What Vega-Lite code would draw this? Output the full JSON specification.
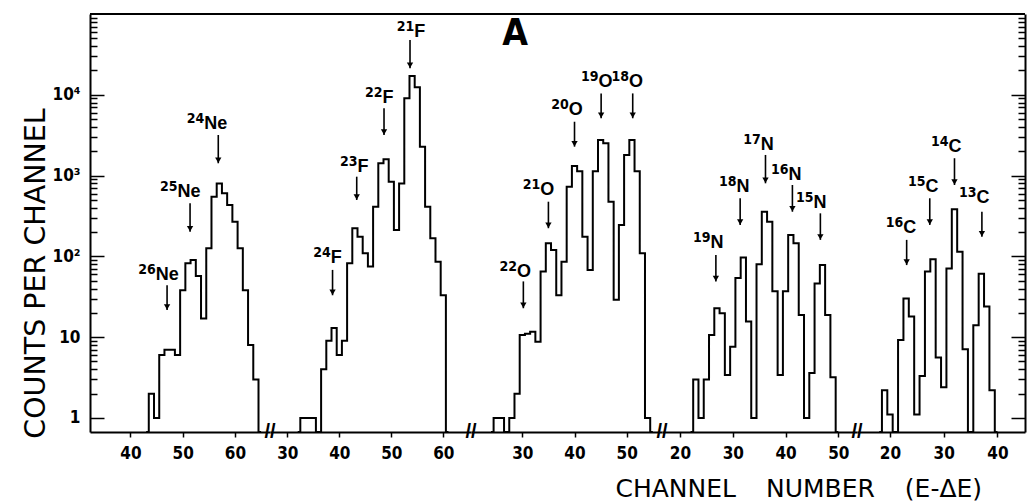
{
"$schema": "https://vega.github.io/schema/vega-lite/v6.json",
"padding": {"left": 21, "top": 13, "right": 2, "bottom": 0},
"background": "white",
"bounds": "flush",
"spacing": 0,
"datasets": {
"hist": [
{"p":"Ne","ch":43,"n":0},{"p":"Ne","ch":44,"n":2},{"p":"Ne","ch":45,"n":1},{"p":"Ne","ch":46,"n":6},{"p":"Ne","ch":47,"n":7},{"p":"Ne","ch":48,"n":7},{"p":"Ne","ch":49,"n":6},{"p":"Ne","ch":50,"n":38},{"p":"Ne","ch":51,"n":82},{"p":"Ne","ch":52,"n":90},{"p":"Ne","ch":53,"n":57},{"p":"Ne","ch":54,"n":17},{"p":"Ne","ch":55,"n":126},{"p":"Ne","ch":56,"n":548},{"p":"Ne","ch":57,"n":800},{"p":"Ne","ch":58,"n":603},{"p":"Ne","ch":59,"n":433},{"p":"Ne","ch":60,"n":269},{"p":"Ne","ch":61,"n":126},{"p":"Ne","ch":62,"n":38},{"p":"Ne","ch":63,"n":8},{"p":"Ne","ch":64,"n":3},{"p":"Ne","ch":65,"n":0},
{"p":"F","ch":32,"n":0},{"p":"F","ch":33,"n":1},{"p":"F","ch":34,"n":1},{"p":"F","ch":35,"n":1},{"p":"F","ch":36,"n":0},{"p":"F","ch":37,"n":4},{"p":"F","ch":38,"n":9},{"p":"F","ch":39,"n":13},{"p":"F","ch":40,"n":6},{"p":"F","ch":41,"n":9},{"p":"F","ch":42,"n":82},{"p":"F","ch":43,"n":223},{"p":"F","ch":44,"n":175},{"p":"F","ch":45,"n":109},{"p":"F","ch":46,"n":75},{"p":"F","ch":47,"n":412},{"p":"F","ch":48,"n":1420},{"p":"F","ch":49,"n":1590},{"p":"F","ch":50,"n":840},{"p":"F","ch":51,"n":212},{"p":"F","ch":52,"n":800},{"p":"F","ch":53,"n":9060},{"p":"F","ch":54,"n":17100},{"p":"F","ch":55,"n":12400},{"p":"F","ch":56,"n":2280},{"p":"F","ch":57,"n":412},{"p":"F","ch":58,"n":168},{"p":"F","ch":59,"n":86},{"p":"F","ch":60,"n":33},{"p":"F","ch":61,"n":0},
{"p":"O","ch":24,"n":0},{"p":"O","ch":25,"n":1},{"p":"O","ch":26,"n":1},{"p":"O","ch":27,"n":0},{"p":"O","ch":28,"n":1},{"p":"O","ch":29,"n":2},{"p":"O","ch":30,"n":10.6},{"p":"O","ch":31,"n":11},{"p":"O","ch":32,"n":11.7},{"p":"O","ch":33,"n":8.8},{"p":"O","ch":34,"n":65},{"p":"O","ch":35,"n":145},{"p":"O","ch":36,"n":120},{"p":"O","ch":37,"n":33},{"p":"O","ch":38,"n":86},{"p":"O","ch":39,"n":729},{"p":"O","ch":40,"n":1315},{"p":"O","ch":41,"n":1130},{"p":"O","ch":42,"n":175},{"p":"O","ch":43,"n":68},{"p":"O","ch":44,"n":1130},{"p":"O","ch":45,"n":2760},{"p":"O","ch":46,"n":2520},{"p":"O","ch":47,"n":475},{"p":"O","ch":48,"n":29},{"p":"O","ch":49,"n":245},{"p":"O","ch":50,"n":1800},{"p":"O","ch":51,"n":2760},{"p":"O","ch":52,"n":1130},{"p":"O","ch":53,"n":109},{"p":"O","ch":54,"n":1},{"p":"O","ch":55,"n":0},
{"p":"N","ch":22,"n":0},{"p":"N","ch":23,"n":3},{"p":"N","ch":24,"n":1},{"p":"N","ch":25,"n":3},{"p":"N","ch":26,"n":10.6},{"p":"N","ch":27,"n":22.8},{"p":"N","ch":28,"n":19.8},{"p":"N","ch":29,"n":3.4},{"p":"N","ch":30,"n":7.6},{"p":"N","ch":31,"n":54},{"p":"N","ch":32,"n":97},{"p":"N","ch":33,"n":15.6},{"p":"N","ch":34,"n":1},{"p":"N","ch":35,"n":80},{"p":"N","ch":36,"n":357},{"p":"N","ch":37,"n":269},{"p":"N","ch":38,"n":37},{"p":"N","ch":39,"n":3.4},{"p":"N","ch":40,"n":37},{"p":"N","ch":41,"n":184},{"p":"N","ch":42,"n":145},{"p":"N","ch":43,"n":18.8},{"p":"N","ch":44,"n":1},{"p":"N","ch":45,"n":3.6},{"p":"N","ch":46,"n":46},{"p":"N","ch":47,"n":78},{"p":"N","ch":48,"n":18.8},{"p":"N","ch":49,"n":3.2},{"p":"N","ch":50,"n":0},
{"p":"C","ch":18,"n":0},{"p":"C","ch":19,"n":2.2},{"p":"C","ch":20,"n":1.1},{"p":"C","ch":21,"n":0},{"p":"C","ch":22,"n":9.2},{"p":"C","ch":23,"n":30},{"p":"C","ch":24,"n":18},{"p":"C","ch":25,"n":1.1},{"p":"C","ch":26,"n":3.3},{"p":"C","ch":27,"n":65},{"p":"C","ch":28,"n":92},{"p":"C","ch":29,"n":5.6},{"p":"C","ch":30,"n":2.4},{"p":"C","ch":31,"n":71},{"p":"C","ch":32,"n":383},{"p":"C","ch":33,"n":114},{"p":"C","ch":34,"n":7.1},{"p":"C","ch":35,"n":0},{"p":"C","ch":36,"n":14},{"p":"C","ch":37,"n":61},{"p":"C","ch":38,"n":24},{"p":"C","ch":39,"n":2.2},{"p":"C","ch":40,"n":0}
],
"ann": [
{"p":"Ne","iso":"24","el":"Ne","ax":56.8,"atop":3180,"atip":1420,"lx":54.1,"ly":3780},
{"p":"Ne","iso":"25","el":"Ne","ax":51.4,"atop":454,"atip":202,"lx":49.0,"ly":548},
{"p":"Ne","iso":"26","el":"Ne","ax":47.0,"atop":44,"atip":21.7,"lx":44.85,"ly":51},
{"p":"F","iso":"21","el":"F","ax":53.6,"atop":47600,"atip":21300,"lx":54.4,"ly":52400},
{"p":"F","iso":"22","el":"F","ax":48.6,"atop":6800,"atip":3180,"lx":48.3,"ly":7850},
{"p":"F","iso":"23","el":"F","ax":43.35,"atop":969,"atip":499,"lx":43.5,"ly":1117},
{"p":"F","iso":"24","el":"F","ax":38.7,"atop":68,"atip":33,"lx":38.35,"ly":82},
{"p":"O","iso":"22","el":"O","ax":30.2,"atop":49,"atip":22.8,"lx":29.0,"ly":56},
{"p":"O","iso":"21","el":"O","ax":35.0,"atop":475,"atip":223,"lx":33.45,"ly":575},
{"p":"O","iso":"20","el":"O","ax":40.0,"atop":4640,"atip":2280,"lx":38.9,"ly":5620},
{"p":"O","iso":"19","el":"O","ax":45.1,"atop":10400,"atip":5120,"lx":44.6,"ly":12600},
{"p":"O","iso":"18","el":"O","ax":51.15,"atop":10400,"atip":5120,"lx":50.45,"ly":12600},
{"p":"N","iso":"19","el":"N","ax":26.8,"atop":104,"atip":49,"lx":25.8,"ly":126},
{"p":"N","iso":"18","el":"N","ax":31.4,"atop":524,"atip":245,"lx":30.7,"ly":632},
{"p":"N","iso":"17","el":"N","ax":36.2,"atop":1800,"atip":802,"lx":35.3,"ly":2075},
{"p":"N","iso":"16","el":"N","ax":41.3,"atop":765,"atip":357,"lx":40.55,"ly":883},
{"p":"N","iso":"15","el":"N","ax":46.6,"atop":341,"atip":160,"lx":45.3,"ly":394},
{"p":"C","iso":"16","el":"C","ax":23.1,"atop":160,"atip":78,"lx":22.46,"ly":193},
{"p":"C","iso":"15","el":"C","ax":27.4,"atop":524,"atip":245,"lx":26.6,"ly":632},
{"p":"C","iso":"14","el":"C","ax":32.0,"atop":1640,"atip":765,"lx":30.9,"ly":1975},
{"p":"C","iso":"13","el":"C","ax":37.1,"atop":357,"atip":175,"lx":36.1,"ly":454}
]
},
"hconcat": [
{"width": 180, "height": 418, "layer": [
 {"data": {"name": "hist"}, "transform": [{"filter": "datum.p==='Ne'"}],
  "mark": {"type": "line", "interpolate": "step", "color": "black", "strokeWidth": 2, "strokeJoin": "miter", "invalid": "show"},
  "encoding": {
   "x": {"field": "ch", "type": "quantitative", "title": null, "scale": {"domain": [32.25, 66.7], "nice": false, "zero": false}, "axis": {"values": [40,50,60], "title": null}},
   "y": {"field": "n", "type": "quantitative", "title": "COUNTS PER CHANNEL", "scale": {"type": "log", "domain": [0.67, 100000], "nice": false, "clamp": true},
    "axis": {"orient": "left", "values": [1,2,3,4,5,6,7,8,9,10,20,30,40,50,60,70,80,90,100,200,300,400,500,600,700,800,900,1000,2000,3000,4000,5000,6000,7000,8000,9000,10000,20000,30000,40000,50000,60000,70000,80000,90000],
     "labelExpr": "datum.value===1?'1':datum.value===10?'10':datum.value===100?'10²':datum.value===1000?'10³':datum.value===10000?'10⁴':''",
     "labelFontSize": {"condition": {"test": "indexof([1,10,100,1000,10000],datum.value)>=0", "value": 17}, "value": 0},
     "tickSize": {"condition": {"test": "indexof([1,10,100,1000,10000],datum.value)>=0", "value": -14}, "value": -7},
     "title": "COUNTS PER CHANNEL", "titleFont": "DejaVu Sans", "titleFontSize": 28.5, "titleFontWeight": "normal", "titleX": -55, "titleY": 259, "titleAngle": -90, "titleAlign": "center", "titleBaseline": "middle", "titleLimit": 1000}}
  }},
 {"data": {"name": "ann"}, "transform": [{"filter": "datum.p==='Ne'"}], "mark": {"type": "rule", "color": "black", "strokeWidth": 1.6},
  "encoding": {"x": {"field": "ax", "type": "quantitative"}, "y": {"field": "atop", "type": "quantitative"}, "y2": {"field": "atip"}}},
 {"data": {"name": "ann"}, "transform": [{"filter": "datum.p==='Ne'"}], "mark": {"type": "point", "shape": "triangle-down", "filled": true, "color": "black", "opacity": 1, "size": 40, "yOffset": -3},
  "encoding": {"x": {"field": "ax", "type": "quantitative"}, "y": {"field": "atip", "type": "quantitative"}}},
 {"data": {"name": "ann"}, "transform": [{"filter": "datum.p==='Ne'"}], "mark": {"type": "text", "align": "right", "baseline": "alphabetic", "dy": -6, "font": "'Liberation Sans Narrow', 'DejaVu Sans Condensed', sans-serif", "fontSize": 14, "fontWeight": "bold", "color": "black"},
  "encoding": {"x": {"field": "lx", "type": "quantitative"}, "y": {"field": "ly", "type": "quantitative"}, "text": {"field": "iso"}}},
 {"data": {"name": "ann"}, "transform": [{"filter": "datum.p==='Ne'"}], "mark": {"type": "text", "align": "left", "baseline": "alphabetic", "font": "'Liberation Sans', sans-serif", "fontSize": 18, "fontWeight": "bold", "color": "black"},
  "encoding": {"x": {"field": "lx", "type": "quantitative"}, "y": {"field": "ly", "type": "quantitative"}, "text": {"field": "el"}}},
 {"data": {"values": [{}]}, "mark": {"type": "rule", "color": "black", "strokeWidth": 2}, "encoding": {"y": {"datum": 100000, "type": "quantitative"}}},
 {"data": {"values": [{}]}, "mark": {"type": "text", "text": "//", "font": "'Liberation Sans', sans-serif", "fontSize": 20, "fontWeight": "bold", "align": "center", "baseline": "middle", "color": "black"},
  "encoding": {"x": {"datum": 66.7, "type": "quantitative"}, "y": {"datum": 0.67, "type": "quantitative"}}}
]},
{"width": 201, "height": 418, "layer": [
 {"data": {"name": "hist"}, "transform": [{"filter": "datum.p==='F'"}],
  "mark": {"type": "line", "interpolate": "step", "color": "black", "strokeWidth": 2, "strokeJoin": "miter", "invalid": "show"},
  "encoding": {
   "x": {"field": "ch", "type": "quantitative", "title": null, "scale": {"domain": [26.67, 65.33], "nice": false, "zero": false}, "axis": {"values": [30,40,50,60], "title": null}},
   "y": {"field": "n", "type": "quantitative", "scale": {"type": "log", "domain": [0.67, 100000], "nice": false, "clamp": true}, "axis": null}
  }},
 {"data": {"name": "ann"}, "transform": [{"filter": "datum.p==='F'"}], "mark": {"type": "rule", "color": "black", "strokeWidth": 1.6},
  "encoding": {"x": {"field": "ax", "type": "quantitative"}, "y": {"field": "atop", "type": "quantitative", "axis": null}, "y2": {"field": "atip"}}},
 {"data": {"name": "ann"}, "transform": [{"filter": "datum.p==='F'"}], "mark": {"type": "point", "shape": "triangle-down", "filled": true, "color": "black", "opacity": 1, "size": 40, "yOffset": -3},
  "encoding": {"x": {"field": "ax", "type": "quantitative"}, "y": {"field": "atip", "type": "quantitative", "axis": null}}},
 {"data": {"name": "ann"}, "transform": [{"filter": "datum.p==='F'"}], "mark": {"type": "text", "align": "right", "baseline": "alphabetic", "dy": -6, "font": "'Liberation Sans Narrow', 'DejaVu Sans Condensed', sans-serif", "fontSize": 14, "fontWeight": "bold", "color": "black"},
  "encoding": {"x": {"field": "lx", "type": "quantitative"}, "y": {"field": "ly", "type": "quantitative", "axis": null}, "text": {"field": "iso"}}},
 {"data": {"name": "ann"}, "transform": [{"filter": "datum.p==='F'"}], "mark": {"type": "text", "align": "left", "baseline": "alphabetic", "font": "'Liberation Sans', sans-serif", "fontSize": 18, "fontWeight": "bold", "color": "black"},
  "encoding": {"x": {"field": "lx", "type": "quantitative"}, "y": {"field": "ly", "type": "quantitative", "axis": null}, "text": {"field": "el"}}},
 {"data": {"values": [{}]}, "mark": {"type": "rule", "color": "black", "strokeWidth": 2}, "encoding": {"y": {"datum": 100000, "type": "quantitative", "axis": null}}},
 {"data": {"values": [{}]}, "mark": {"type": "text", "text": "//", "font": "'Liberation Sans', sans-serif", "fontSize": 20, "fontWeight": "bold", "align": "center", "baseline": "middle", "color": "black"},
  "encoding": {"x": {"datum": 65.33, "type": "quantitative"}, "y": {"datum": 0.67, "type": "quantitative", "axis": null}}}
]},
{"width": 191, "height": 418, "layer": [
 {"data": {"name": "hist"}, "transform": [{"filter": "datum.p==='O'"}],
  "mark": {"type": "line", "interpolate": "step", "color": "black", "strokeWidth": 2, "strokeJoin": "miter", "invalid": "show"},
  "encoding": {
   "x": {"field": "ch", "type": "quantitative", "title": null, "scale": {"domain": [20.17, 56.76], "nice": false, "zero": false}, "axis": {"values": [30,40,50], "title": null}},
   "y": {"field": "n", "type": "quantitative", "scale": {"type": "log", "domain": [0.67, 100000], "nice": false, "clamp": true}, "axis": null}
  }},
 {"data": {"name": "ann"}, "transform": [{"filter": "datum.p==='O'"}], "mark": {"type": "rule", "color": "black", "strokeWidth": 1.6},
  "encoding": {"x": {"field": "ax", "type": "quantitative"}, "y": {"field": "atop", "type": "quantitative", "axis": null}, "y2": {"field": "atip"}}},
 {"data": {"name": "ann"}, "transform": [{"filter": "datum.p==='O'"}], "mark": {"type": "point", "shape": "triangle-down", "filled": true, "color": "black", "opacity": 1, "size": 40, "yOffset": -3},
  "encoding": {"x": {"field": "ax", "type": "quantitative"}, "y": {"field": "atip", "type": "quantitative", "axis": null}}},
 {"data": {"name": "ann"}, "transform": [{"filter": "datum.p==='O'"}], "mark": {"type": "text", "align": "right", "baseline": "alphabetic", "dy": -6, "font": "'Liberation Sans Narrow', 'DejaVu Sans Condensed', sans-serif", "fontSize": 14, "fontWeight": "bold", "color": "black"},
  "encoding": {"x": {"field": "lx", "type": "quantitative"}, "y": {"field": "ly", "type": "quantitative", "axis": null}, "text": {"field": "iso"}}},
 {"data": {"name": "ann"}, "transform": [{"filter": "datum.p==='O'"}], "mark": {"type": "text", "align": "left", "baseline": "alphabetic", "font": "'Liberation Sans', sans-serif", "fontSize": 18, "fontWeight": "bold", "color": "black"},
  "encoding": {"x": {"field": "lx", "type": "quantitative"}, "y": {"field": "ly", "type": "quantitative", "axis": null}, "text": {"field": "el"}}},
 {"data": {"values": [{}]}, "mark": {"type": "rule", "color": "black", "strokeWidth": 2}, "encoding": {"y": {"datum": 100000, "type": "quantitative", "axis": null}}},
 {"data": {"values": [{}]}, "mark": {"type": "text", "text": "//", "font": "'Liberation Sans', sans-serif", "fontSize": 20, "fontWeight": "bold", "align": "center", "baseline": "middle", "color": "black"},
  "encoding": {"x": {"datum": 56.76, "type": "quantitative"}, "y": {"datum": 0.67, "type": "quantitative", "axis": null}}},
 {"data": {"values": [{}]}, "mark": {"type": "text", "text": "A", "font": "'Liberation Sans Narrow', 'DejaVu Sans Condensed', sans-serif", "fontSize": 37, "fontWeight": "bold", "align": "center", "baseline": "alphabetic", "color": "black"},
  "encoding": {"x": {"datum": 28.6, "type": "quantitative"}, "y": {"datum": 41300, "type": "quantitative", "axis": null}}}
]},
{"width": 195, "height": 418, "layer": [
 {"data": {"name": "hist"}, "transform": [{"filter": "datum.p==='N'"}],
  "mark": {"type": "line", "interpolate": "step", "color": "black", "strokeWidth": 2, "strokeJoin": "miter", "invalid": "show"},
  "encoding": {
   "x": {"field": "ch", "type": "quantitative", "title": null, "scale": {"domain": [16.59, 53.54], "nice": false, "zero": false}, "axis": {"values": [20,30,40,50], "title": null}},
   "y": {"field": "n", "type": "quantitative", "scale": {"type": "log", "domain": [0.67, 100000], "nice": false, "clamp": true}, "axis": null}
  }},
 {"data": {"name": "ann"}, "transform": [{"filter": "datum.p==='N'"}], "mark": {"type": "rule", "color": "black", "strokeWidth": 1.6},
  "encoding": {"x": {"field": "ax", "type": "quantitative"}, "y": {"field": "atop", "type": "quantitative", "axis": null}, "y2": {"field": "atip"}}},
 {"data": {"name": "ann"}, "transform": [{"filter": "datum.p==='N'"}], "mark": {"type": "point", "shape": "triangle-down", "filled": true, "color": "black", "opacity": 1, "size": 40, "yOffset": -3},
  "encoding": {"x": {"field": "ax", "type": "quantitative"}, "y": {"field": "atip", "type": "quantitative", "axis": null}}},
 {"data": {"name": "ann"}, "transform": [{"filter": "datum.p==='N'"}], "mark": {"type": "text", "align": "right", "baseline": "alphabetic", "dy": -6, "font": "'Liberation Sans Narrow', 'DejaVu Sans Condensed', sans-serif", "fontSize": 14, "fontWeight": "bold", "color": "black"},
  "encoding": {"x": {"field": "lx", "type": "quantitative"}, "y": {"field": "ly", "type": "quantitative", "axis": null}, "text": {"field": "iso"}}},
 {"data": {"name": "ann"}, "transform": [{"filter": "datum.p==='N'"}], "mark": {"type": "text", "align": "left", "baseline": "alphabetic", "font": "'Liberation Sans', sans-serif", "fontSize": 18, "fontWeight": "bold", "color": "black"},
  "encoding": {"x": {"field": "lx", "type": "quantitative"}, "y": {"field": "ly", "type": "quantitative", "axis": null}, "text": {"field": "el"}}},
 {"data": {"values": [{}]}, "mark": {"type": "rule", "color": "black", "strokeWidth": 2}, "encoding": {"y": {"datum": 100000, "type": "quantitative", "axis": null}}},
 {"data": {"values": [{}]}, "mark": {"type": "text", "text": "//", "font": "'Liberation Sans', sans-serif", "fontSize": 20, "fontWeight": "bold", "align": "center", "baseline": "middle", "color": "black"},
  "encoding": {"x": {"datum": 53.54, "type": "quantitative"}, "y": {"datum": 0.67, "type": "quantitative", "axis": null}}}
]},
{"width": 168, "height": 418, "layer": [
 {"data": {"name": "hist"}, "transform": [{"filter": "datum.p==='C'"}],
  "mark": {"type": "line", "interpolate": "step", "color": "black", "strokeWidth": 2, "strokeJoin": "miter", "invalid": "show"},
  "encoding": {
   "x": {"field": "ch", "type": "quantitative", "title": "CHANNEL NUMBER (E-ΔE)", "scale": {"domain": [13.86, 45.12], "nice": false, "zero": false},
    "axis": {"values": [20,30,40], "title": "CHANNEL\u2003\u2009NUMBER\u2003\u2009(E-ΔE)", "titleFont": "DejaVu Sans", "titleFontSize": 25, "titleFontWeight": "normal", "titleX": -242, "titleY": 64, "titleAlign": "left", "titleBaseline": "alphabetic", "titleLimit": 1000}},
   "y": {"field": "n", "type": "quantitative", "title": null, "scale": {"type": "log", "domain": [0.67, 100000], "nice": false, "clamp": true},
    "axis": {"orient": "right", "values": [1,2,3,4,5,6,7,8,9,10,20,30,40,50,60,70,80,90,100,200,300,400,500,600,700,800,900,1000,2000,3000,4000,5000,6000,7000,8000,9000,10000,20000,30000,40000,50000,60000,70000,80000,90000],
     "labels": false, "title": null,
     "tickSize": {"condition": {"test": "indexof([1,10,100,1000,10000],datum.value)>=0", "value": -14}, "value": -7}}}
  }},
 {"data": {"name": "ann"}, "transform": [{"filter": "datum.p==='C'"}], "mark": {"type": "rule", "color": "black", "strokeWidth": 1.6},
  "encoding": {"x": {"field": "ax", "type": "quantitative"}, "y": {"field": "atop", "type": "quantitative"}, "y2": {"field": "atip"}}},
 {"data": {"name": "ann"}, "transform": [{"filter": "datum.p==='C'"}], "mark": {"type": "point", "shape": "triangle-down", "filled": true, "color": "black", "opacity": 1, "size": 40, "yOffset": -3},
  "encoding": {"x": {"field": "ax", "type": "quantitative"}, "y": {"field": "atip", "type": "quantitative"}}},
 {"data": {"name": "ann"}, "transform": [{"filter": "datum.p==='C'"}], "mark": {"type": "text", "align": "right", "baseline": "alphabetic", "dy": -6, "font": "'Liberation Sans Narrow', 'DejaVu Sans Condensed', sans-serif", "fontSize": 14, "fontWeight": "bold", "color": "black"},
  "encoding": {"x": {"field": "lx", "type": "quantitative"}, "y": {"field": "ly", "type": "quantitative"}, "text": {"field": "iso"}}},
 {"data": {"name": "ann"}, "transform": [{"filter": "datum.p==='C'"}], "mark": {"type": "text", "align": "left", "baseline": "alphabetic", "font": "'Liberation Sans', sans-serif", "fontSize": 18, "fontWeight": "bold", "color": "black"},
  "encoding": {"x": {"field": "lx", "type": "quantitative"}, "y": {"field": "ly", "type": "quantitative"}, "text": {"field": "el"}}},
 {"data": {"values": [{}]}, "mark": {"type": "rule", "color": "black", "strokeWidth": 2}, "encoding": {"y": {"datum": 100000, "type": "quantitative"}}}
]}
],
"config": {
 "view": {"stroke": null},
 "axis": {"domainColor": "black", "domainWidth": 2, "tickColor": "black", "tickWidth": 1.5, "labelColor": "black", "labelFont": "'Liberation Sans Narrow', 'DejaVu Sans Condensed', sans-serif", "labelFontSize": 17, "labelFontWeight": "bold", "grid": false, "labelFlush": false, "labelOverlap": false, "titleColor": "black"},
 "axisX": {"tickSize": 5, "labelPadding": 8},
 "axisY": {"labelPadding": 24}
}
}
